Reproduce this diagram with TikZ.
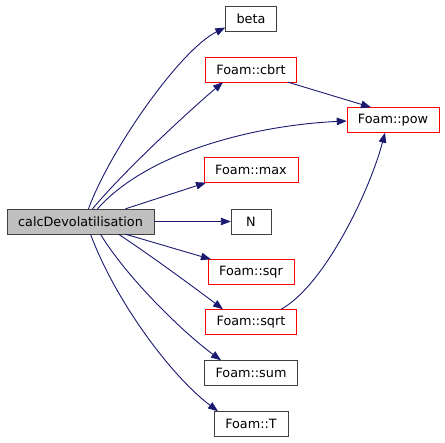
\documentclass[tikz,border=0pt]{standalone}
\usepackage{fontspec}
\setmainfont{DejaVu Sans}
\usetikzlibrary{arrows.meta}
\definecolor{edgeblue}{HTML}{191970}

\begin{document}
\begin{tikzpicture}[x=1pt, y=-1pt,
    fn/.style={draw=black!75, fill=white, minimum height=25pt, minimum width=40pt, inner xsep=11pt, font=\fontsize{12.8}{14}\selectfont},
    fnred/.style={fn, draw=red},
    root/.style={fn, fill=black!25},
    call/.style={-{Triangle[length=10pt,width=7.5pt]}, edgeblue, line width=0.9pt}
]
\useasboundingbox (0,0) rectangle (445,443);

\node[root] (main) at (80.5,221.5) {calcDevolatilisation};
\node[fn, minimum width=51pt] (beta) at (251,18.5) {beta};
\node[fnred] (cbrt) at (251,69.5) {Foam::cbrt};
\node[fnred] (pow) at (393,120) {Foam::pow};
\node[fnred] (max) at (251,170) {Foam::max};
\node[fn] (N) at (251,221.5) {N};
\node[fnred] (sqr) at (251,272) {Foam::sqr};
\node[fnred] (sqrt) at (251,322) {Foam::sqrt};
\node[fn] (sum) at (251,373) {Foam::sum};
\node[fn] (T) at (251,424) {Foam::T};

% calls from calcDevolatilisation
\draw[call] ([xshift=8pt]main.north) .. controls (110,150) and (180,50) .. ([yshift=-9pt]beta.west);
\draw[call] ([xshift=12pt]main.north) .. controls (125,170) and (190,110) .. ([xshift=-28pt]cbrt.south);
\draw[call] ([xshift=17pt]main.north) .. controls (150,150) and (260,125) .. ([yshift=-1pt]pow.west);
\draw[call] ([xshift=45pt]main.north) -- ([xshift=-45pt]max.south);
\draw[call] (main) -- (N);
\draw[call] ([xshift=45pt]main.south) -- ([xshift=3pt]sqr.north west);
\draw[call] ([xshift=38pt]main.south) .. controls (150,255) and (195,288) .. ([xshift=-28pt]sqrt.north);
\draw[call] ([xshift=20pt]main.south) .. controls (125,275) and (180,330) .. ([xshift=-30pt]sum.north);
\draw[call] ([xshift=10pt]main.south) .. controls (115,300) and (170,375) .. ([xshift=-33pt]T.north);

% calls into Foam::pow
\draw[call] ([xshift=37pt]cbrt.south) -- ([xshift=-22pt]pow.north);
\draw[call] ([xshift=30pt]sqrt.north) .. controls (325,285) and (370,190) .. ([xshift=-8pt]pow.south);
\end{tikzpicture}
\end{document}
